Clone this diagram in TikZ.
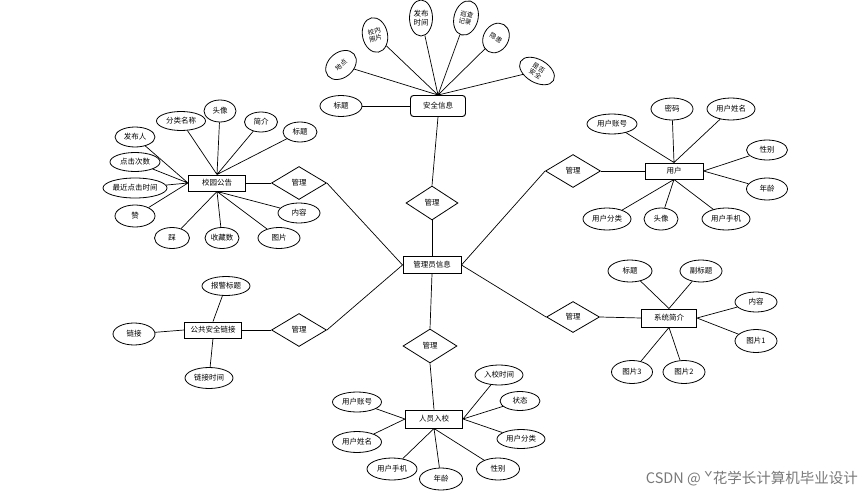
\documentclass[tikz,border=0pt]{standalone}
\usepackage{fontspec}
\setmainfont{Noto Sans CJK SC}
\usepackage{tikz}
\usetikzlibrary{shapes.geometric}
\definecolor{markgray}{RGB}{120,120,120}

\begin{document}
\begin{tikzpicture}[x=1pt,y=-1pt,
    every node/.style={font=\fontsize{7.5}{8.5}\selectfont, inner sep=0pt},
    attr/.style={draw,ellipse,line width=0.8pt,minimum width=#1,minimum height=21pt},
    attr/.default=44pt,
    tilted/.style={font=\fontsize{6.5}{7}\selectfont},
    ent/.style={draw,rectangle,line width=0.95pt,minimum width=57pt,minimum height=17pt},
    rel/.style={draw,diamond,line width=0.8pt,minimum width=54pt,minimum height=33pt},
    link/.style={line width=0.7pt}]
        \useasboundingbox (0,0) rectangle (862,495);
        % centre
        \node[ent,minimum width=58pt] (admin) at (432,265) {管理员信息};

        % 安全信息
        \node[ent,rounded corners=3pt,minimum width=55pt,minimum height=21pt] (safe) at (438,106) {安全信息};
        \node[attr=42pt] (safeTitle) at (341,106) {标题};
        \node[attr=34pt,minimum height=25pt,rotate=40,tilted] (safePlace) at (341,65) {地点};
        \node[attr=25pt,minimum height=35pt,rotate=12,align=center,tilted] (safePhoto) at (375,35) {校内\\照片};
        \node[attr=23pt,minimum height=36pt,align=center] (safeTime) at (421,18) {发布\\时间};
        \node[attr=24pt,minimum height=35pt,rotate=-15,align=center,tilted] (safeCheck) at (466,18) {巡查\\记录};
        \node[attr=25pt,minimum height=31pt,rotate=-30,tilted] (safeRisk) at (496,38) {隐患};
        \node[attr=38pt,minimum height=23pt,rotate=-30,align=center,tilted] (safeOk) at (537,71) {是否\\安全};
        \node[rel,minimum width=52pt,minimum height=34pt] (relSafe) at (432,203) {管理};
        \draw[link] (safeTitle) -- (safe.west);
        \draw[link] (safePlace) -- (safe.north) (safePhoto) -- (safe.north)
          (safeTime) -- (safe.north) (safeCheck) -- (safe.north)
          (safeRisk) -- (safe.north) (safeOk) -- (safe.north);
        \draw[link] (safe.south) -- (relSafe.north);
        \draw[link] (relSafe.south) -- (admin.north);

        % 校园公告
        \node[ent,minimum width=57pt,minimum height=16pt] (notice) at (217,183) {校园公告};
        \node[attr=49pt,minimum height=19pt] (ntType) at (181,121) {分类名称};
        \node[attr=32pt,minimum height=22pt] (ntHead) at (220,111) {头像};
        \node[attr=33pt,minimum height=20pt] (ntIntro) at (261,122) {简介};
        \node[attr=34pt,minimum height=20pt] (ntTitle) at (300,132) {标题};
        \node[attr=40pt,minimum height=20pt] (ntAuthor) at (135,137) {发布人};
        \node[attr=50pt,minimum height=19pt] (ntClicks) at (135,162) {点击次数};
        \node[attr=64pt,minimum height=20pt] (ntLast) at (135,188) {最近点击时间};
        \node[attr=40pt,minimum height=22pt] (ntLike) at (135,216) {赞};
        \node[attr=35pt,minimum height=21pt] (ntDislike) at (172,238) {踩};
        \node[attr=34pt,minimum height=21pt] (ntFav) at (222,238) {收藏数};
        \node[attr=42pt,minimum height=21pt] (ntPic) at (279,238) {图片};
        \node[attr=42pt,minimum height=20pt] (ntText) at (299,213) {内容};
        \node[rel,minimum width=55pt] (relNotice) at (299,183) {管理};
        \draw[link] (ntType) -- (notice.north) (ntHead) -- (notice.north)
          (ntIntro) -- (notice.north) (ntTitle) -- (notice.north);
        \draw[link] (ntAuthor) -- (notice.west) (ntClicks) -- (notice.west)
          (ntLast) -- (notice.west) (ntLike) -- (notice.west);
        \draw[link] (ntDislike) -- (notice.south) (ntFav) -- (notice.south)
          (ntPic) -- (notice.south) (ntText) -- (notice.south);
        \draw[link] (notice.east) -- (relNotice.west);
        \draw[link] (relNotice.east) -- (admin.west);

        % 公共安全链接
        \node[ent,minimum width=57pt,minimum height=16pt] (pub) at (213,330) {公共安全链接};
        \node[attr=48pt,minimum height=19pt] (pubTitle) at (226,286) {报警标题};
        \node[attr=42pt,minimum height=22pt] (pubLink) at (134,334) {链接};
        \node[attr=48pt,minimum height=21pt] (pubTime) at (209,378) {链接时间};
        \node[rel,minimum width=55pt] (relPub) at (299,330) {管理};
        \draw[link] (pubTitle) -- (pub.north);
        \draw[link] (pubLink) -- (pub.west);
        \draw[link] (pubTime) -- (pub.south);
        \draw[link] (pub.east) -- (relPub.west);
        \draw[link] (relPub.east) -- (admin.west);

        % 用户
        \node[ent,minimum width=58pt,minimum height=16pt] (user) at (674,171) {用户};
        \node[attr=50pt,minimum height=20pt] (usAcc) at (612,124) {用户账号};
        \node[attr=42pt,minimum height=22pt] (usPwd) at (672,109) {密码};
        \node[attr=48pt,minimum height=22pt] (usName) at (731,109) {用户姓名};
        \node[attr=41pt,minimum height=20pt] (usSex) at (767,150) {性别};
        \node[attr=41pt,minimum height=22pt] (usAge) at (767,189) {年龄};
        \node[attr=48pt,minimum height=22pt] (usType) at (607,219) {用户分类};
        \node[attr=34pt,minimum height=22pt] (usHead) at (661,219) {头像};
        \node[attr=48pt,minimum height=22pt] (usPhone) at (726,219) {用户手机};
        \node[rel,minimum width=55pt] (relUser) at (573,171) {管理};
        \draw[link] (usAcc) -- (user.north) (usPwd) -- (user.north) (usName) -- (user.north);
        \draw[link] (usSex) -- (user.east) (usAge) -- (user.east);
        \draw[link] (usType) -- (user.south) (usHead) -- (user.south) (usPhone) -- (user.south);
        \draw[link] (relUser.east) -- (user.west);
        \draw[link] (admin.east) -- (relUser.west);

        % 系统简介
        \node[ent,minimum width=55pt,minimum height=18pt] (sys) at (669,318) {系统简介};
        \node[attr=44pt,minimum height=22pt] (sysTitle) at (630,271) {标题};
        \node[attr=42pt,minimum height=22pt] (sysSub) at (701,271) {副标题};
        \node[attr=42pt,minimum height=20pt] (sysText) at (756,302) {内容};
        \node[attr=42pt,minimum height=23pt] (sysPic1) at (756,341) {图片1};
        \node[attr=41pt,minimum height=23pt] (sysPic3) at (632,372) {图片3};
        \node[attr=42pt,minimum height=23pt] (sysPic2) at (684,372) {图片2};
        \node[rel,minimum width=53pt,minimum height=31pt] (relSys) at (573,317) {管理};
        \draw[link] (sysTitle) -- (sys.north) (sysSub) -- (sys.north);
        \draw[link] (sysText) -- (sys.east) (sysPic1) -- (sys.east);
        \draw[link] (sysPic3) -- (sys.south) (sysPic2) -- (sys.south);
        \draw[link] (relSys.east) -- (sys.west);
        \draw[link] (admin.east) -- (relSys.west);

        % 人员入校
        \node[ent,minimum width=57pt,minimum height=18pt] (entry) at (434,419) {人员入校};
        \node[attr=48pt,minimum height=20pt] (enTime) at (499,375) {入校时间};
        \node[attr=40pt,minimum height=19pt] (enState) at (520,401) {状态};
        \node[attr=48pt,minimum height=19pt] (enType) at (521,439) {用户分类};
        \node[attr=43pt,minimum height=22pt] (enSex) at (498,469) {性别};
        \node[attr=43pt,minimum height=22pt] (enAge) at (441,479) {年龄};
        \node[attr=50pt,minimum height=22pt] (enPhone) at (392,469) {用户手机};
        \node[attr=49pt,minimum height=21pt] (enName) at (357,442) {用户姓名};
        \node[attr=49pt,minimum height=20pt] (enAcc) at (357,402) {用户账号};
        \node[rel,minimum width=54pt,minimum height=34pt] (relEntry) at (430,346) {管理};
        \draw[link] (enTime) -- (entry.east) (enState) -- (entry.east) (enType) -- (entry.east);
        \draw[link] (enSex) -- (entry.south) (enAge) -- (entry.south) (enPhone) -- (entry.south);
        \draw[link] (enName) -- (entry.west) (enAcc) -- (entry.west);
        \draw[link] (relEntry.south) -- (entry.north);
        \draw[link] (admin.south) -- (relEntry.north);

        \node[text=markgray,font=\fontsize{14.5}{16}\selectfont,anchor=east] (mark) at (858,479) {CSDN @ ˇ花学长计算机毕业设计};
      \end{tikzpicture}
\end{document}
